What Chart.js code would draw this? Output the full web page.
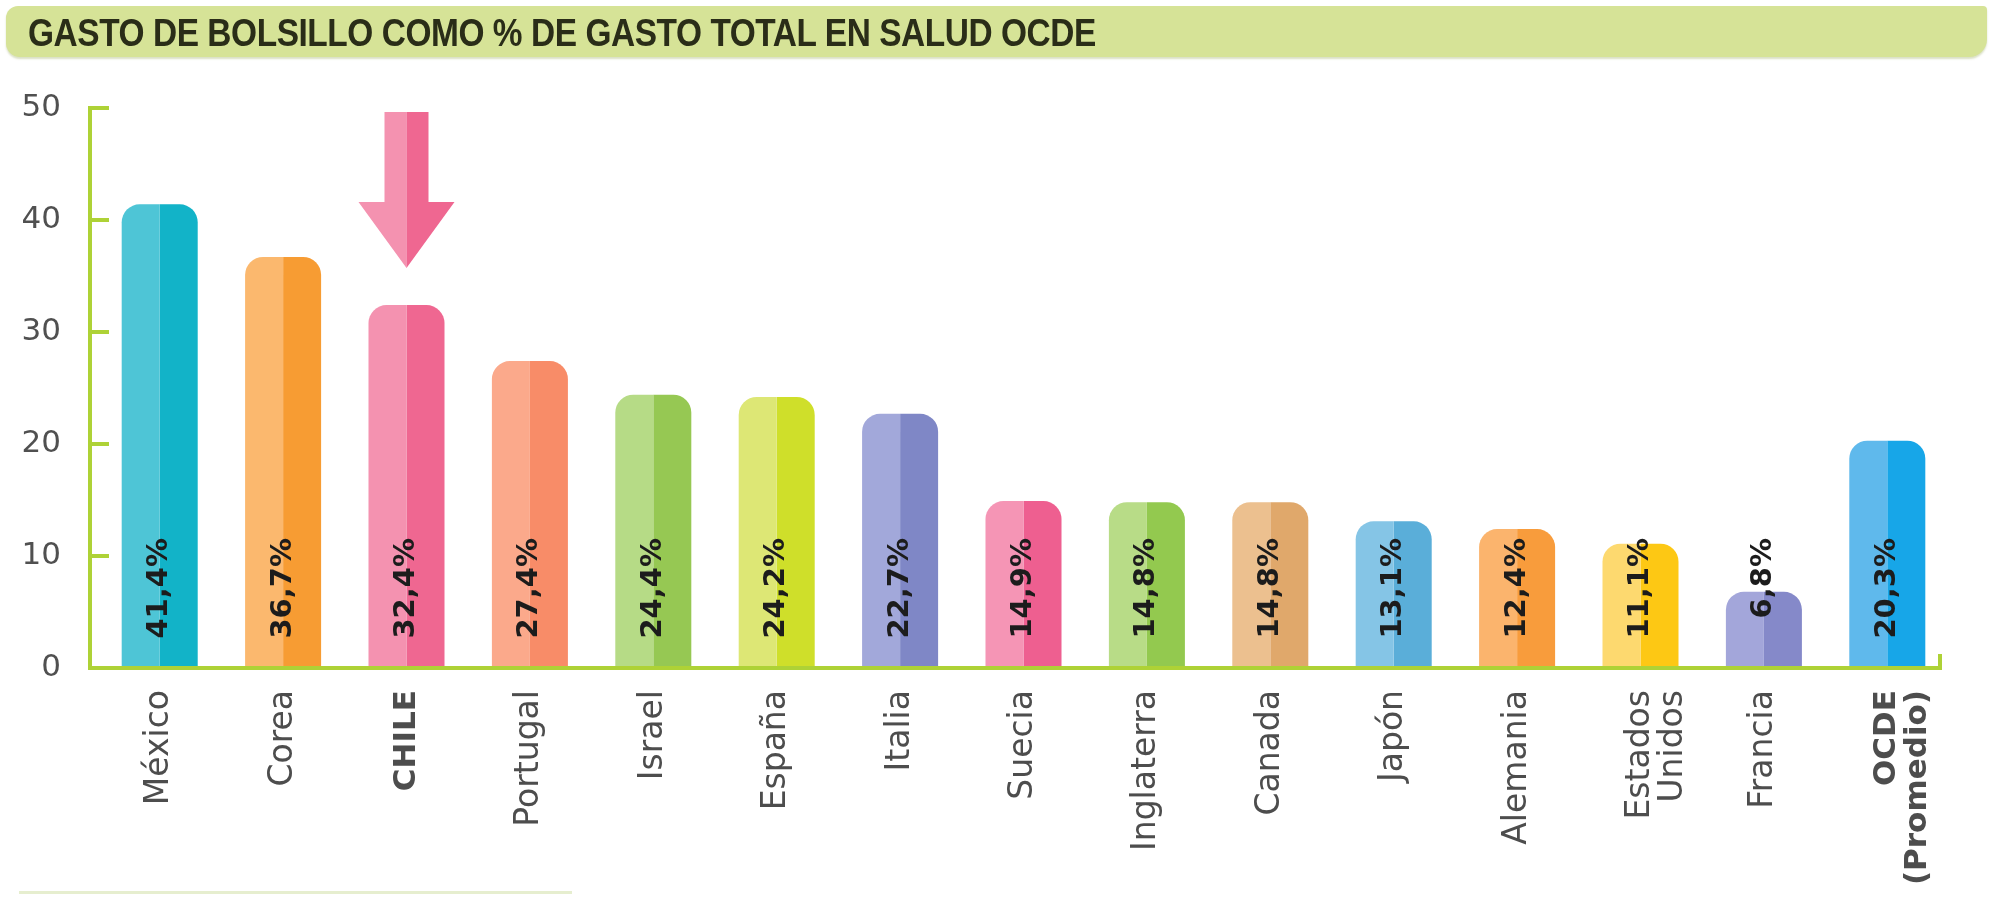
<!DOCTYPE html>
<html>
<head>
<meta charset="utf-8">
<script src="https://cdn.jsdelivr.net/npm/chart.js@4.4.1/dist/chart.umd.min.js"></script>
<style>
  body { margin: 0; background: #fff; }
  #wrap { position: relative; width: 1991px; height: 898px; overflow: hidden; }
  #banner {
    position: absolute; left: 6px; top: 6px; width: 1981px; height: 51px;
    background: #d6e397; border-radius: 12px 4px 18px 14px;
    box-shadow: 0 2px 2px rgba(150, 165, 90, 0.35);
  }
  #banner span {
    position: absolute; left: 22px; top: 6px; white-space: nowrap;
    font-family: "Liberation Sans", Arial, sans-serif; font-weight: bold; font-size: 38px;
    color: #2a2d18; transform: scaleX(0.88); transform-origin: left center; letter-spacing: -0.5px;
  }
  #foot { position: absolute; left: 19px; top: 891px; width: 553px; height: 3px; background: #e6eecf; }
  canvas { position: absolute; left: 0; top: 0; }
</style>
</head>
<body>
<div id="wrap">
  <canvas id="bar-chart" width="1991" height="898"></canvas>
  <div id="banner"><span>GASTO DE BOLSILLO COMO % DE GASTO TOTAL EN SALUD OCDE</span></div>
  <div id="foot"></div>
</div>
<script>
const categories = ['México', 'Corea', 'CHILE', 'Portugal', 'Israel', 'España', 'Italia', 'Suecia',
  'Inglaterra', 'Canada', 'Japón', 'Alemania', ['Estados', 'Unidos'], 'Francia', ['OCDE', '(Promedio)']];
const values = [41.4, 36.7, 32.4, 27.4, 24.4, 24.2, 22.7, 14.9, 14.8, 14.8, 13.1, 12.4, 11.1, 6.8, 20.3];
const lightColors = ['#4ec5d6', '#fbb86e', '#f492b0', '#fba98b', '#b6db86', '#dde775', '#a2a8da', '#f595b5',
  '#b8dc87', '#ecc08f', '#85c5e6', '#fbb46d', '#fdd96f', '#a3a6da', '#5fb9ec'];
const darkColors = ['#12b3c8', '#f79c33', '#ef6791', '#f88c68', '#96c853', '#cfdf2a', '#7f87c6', '#ee5f90',
  '#93c94f', '#e0a86b', '#5aaed9', '#f89c3c', '#fdc814', '#8589c9', '#17a6e8'];
const yTicks = [0, 10, 20, 30, 40, 50];
const boldLabels = ['CHILE', 'OCDE'];
const highlight = 'CHILE';

const axisGreen = '#aed236';
const labelFont = '"DejaVu Sans", sans-serif';

// axis lines, tick stubs, value labels and the arrow over CHILE
const decorations = {
  id: 'decorations',
  afterDatasetsDraw(chart) {
    const { ctx, chartArea } = chart;
    const x = chart.scales.x, y = chart.scales.y;
    const ax = chartArea.left - 8;
    const y0 = y.getPixelForValue(0);
    const xr = chartArea.right - 9;
    ctx.save();
    ctx.strokeStyle = axisGreen;
    ctx.lineWidth = 4;
    ctx.lineCap = 'square';
    ctx.beginPath();
    ctx.moveTo(ax, y.getPixelForValue(50));
    ctx.lineTo(ax, y0);
    ctx.lineTo(xr, y0);
    ctx.lineTo(xr, y0 - 12);
    ctx.stroke();
    yTicks.forEach(t => {
      if (t === 0) return;
      const py = y.getPixelForValue(t);
      ctx.beginPath();
      ctx.moveTo(ax, py);
      ctx.lineTo(ax + 17, py);
      ctx.stroke();
    });

    // value labels
    ctx.fillStyle = '#1c1c1c';
    ctx.font = 'bold 29px ' + labelFont;
    ctx.textAlign = 'right';
    ctx.textBaseline = 'middle';
    values.forEach((v, i) => {
      const px = x.getPixelForValue(i);
      ctx.save();
      ctx.translate(px, y0 - 130);
      ctx.rotate(-Math.PI / 2);
      ctx.fillText(v.toFixed(1).replace('.', ',') + '%', 0, 0);
      ctx.restore();
    });

    // arrow
    const hi = categories.indexOf(highlight);
    const cx = x.getPixelForValue(hi);
    const tip = y.getPixelForValue(values[hi]) - 37;
    const top = chartArea.top + 4;
    const shaft = 22, head = 48, headH = 66;
    const half = (side, color) => {
      ctx.fillStyle = color;
      ctx.beginPath();
      ctx.moveTo(cx, top);
      ctx.lineTo(cx + side * shaft, top);
      ctx.lineTo(cx + side * shaft, tip - headH);
      ctx.lineTo(cx + side * head, tip - headH);
      ctx.lineTo(cx, tip);
      ctx.closePath();
      ctx.fill();
    };
    half(-1, lightColors[hi]);
    half(1, darkColors[hi]);
    ctx.restore();
  }
};

new Chart(document.getElementById('bar-chart'), {
  type: 'bar',
  data: {
    labels: categories,
    datasets: [{
      data: values,
      backgroundColor: lightColors,
      borderWidth: 0,
      borderRadius: { topLeft: 18, topRight: 0, bottomLeft: 0, bottomRight: 0 },
      borderSkipped: false,
      categoryPercentage: 0.616,
      barPercentage: 1.0
    }, {
      data: values,
      backgroundColor: darkColors,
      borderWidth: 0,
      borderRadius: { topLeft: 0, topRight: 18, bottomLeft: 0, bottomRight: 0 },
      borderSkipped: false,
      categoryPercentage: 0.616,
      barPercentage: 1.0
    }]
  },
  options: {
    responsive: false,
    animation: false,
    layout: { padding: { top: 108, right: 42, left: 0, bottom: 0 } },
    plugins: { legend: { display: false }, tooltip: { enabled: false } },
    scales: {
      x: {
        grid: { display: false, drawTicks: false },
        border: { display: false },
        afterFit: s => { s.height = 230; },
        ticks: {
          autoSkip: false,
          maxRotation: 90,
          minRotation: 90,
          padding: 22,
          color: '#4d4d4d',
          font: ctx => {
            const lab = categories[ctx.index];
            const first = Array.isArray(lab) ? lab[0] : lab;
            const bold = boldLabels.includes(first);
            return { family: labelFont, size: bold ? 31 : 33, weight: bold ? 'bold' : 'normal', lineHeight: 1.0 };
          }
        }
      },
      y: {
        min: 0,
        max: 50,
        grid: { display: false, drawTicks: false },
        border: { display: false },
        afterFit: s => { s.width = 98; },
        afterBuildTicks: s => { s.ticks = yTicks.map(v => ({ value: v })); },
        ticks: {
          padding: 37,
          color: '#505050',
          font: { family: labelFont, size: 31 }
        }
      }
    }
  },
  plugins: [decorations]
});
</script>
</body>
</html>
